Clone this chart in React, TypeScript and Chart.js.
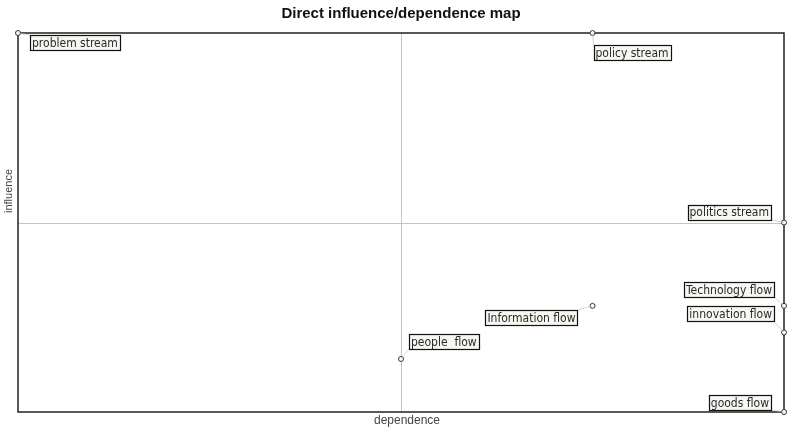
import React, { useEffect, useRef } from "react";
import { Chart, registerables } from "chart.js";

Chart.register(...registerables);

const names = [
  "problem stream",
  "policy stream",
  "politics stream",
  "Technology flow",
  "innovation flow",
  "Information flow",
  "people  flow",
  "goods flow",
];
const dependence = [0, 75, 100, 100, 100, 75, 50, 100];
const influence = [100, 100, 50, 28, 21, 28, 14, 0];

// label box placement relative to point (style/layout, not data)
const labelPlacement: { side: "left" | "right"; dx: number; dy: number }[] = [
  { side: "right", dx: 12, dy: 2 },
  { side: "right", dx: 1, dy: 12 },
  { side: "left", dx: -13, dy: -18 },
  { side: "left", dx: -10, dy: -24 },
  { side: "left", dx: -10, dy: -26 },
  { side: "left", dx: -15, dy: 4 },
  { side: "right", dx: 8, dy: -25 },
  { side: "left", dx: -13, dy: -17 },
];

export default function App() {
  const ref = useRef<HTMLCanvasElement | null>(null);
  useEffect(() => {
    if (!ref.current) return;
    const decor = {
      id: "decor",
      beforeDatasetsDraw(chart: any) {
        const { ctx, chartArea, scales } = chart;
        const x = scales.x, y = scales.y;
        ctx.save();
        ctx.strokeStyle = "#c4c4c4";
        ctx.lineWidth = 1;
        const mx = Math.round(x.getPixelForValue(50)) + 0.5;
        const my = Math.round(y.getPixelForValue(50)) + 0.5;
        ctx.beginPath();
        ctx.moveTo(mx, chartArea.top);
        ctx.lineTo(mx, chartArea.bottom);
        ctx.moveTo(chartArea.left, my);
        ctx.lineTo(chartArea.right, my);
        ctx.stroke();
        // frame
        ctx.strokeStyle = "#222";
        ctx.lineWidth = 1.5;
        ctx.strokeRect(chartArea.left, chartArea.top, chartArea.right - chartArea.left, chartArea.bottom - chartArea.top);
        ctx.restore();
      },
      afterDraw(chart: any) {
        const { ctx, scales } = chart;
        const x = scales.x, y = scales.y;
        ctx.save();
        // title
        ctx.fillStyle = "#111";
        ctx.font = "bold 15px 'Liberation Sans', Arial, sans-serif";
        ctx.textAlign = "center";
        ctx.textBaseline = "middle";
        ctx.fillText("Direct influence/dependence map", 401, 14);
        // axis titles
        ctx.fillStyle = "#444";
        ctx.font = "12px 'Liberation Sans', Arial, sans-serif";
        ctx.fillText("dependence", 407, 421);
        ctx.save();
        ctx.translate(9, 191);
        ctx.rotate(-Math.PI / 2);
        ctx.font = "11px 'Liberation Sans', Arial, sans-serif";
        ctx.fillText("influence", 0, 0);
        ctx.restore();
        // labels
        ctx.font = "12px 'DejaVu Sans Condensed', 'Liberation Sans', sans-serif";
        ctx.textAlign = "left";
        names.forEach((n, i) => {
          const px = x.getPixelForValue(dependence[i]);
          const py = y.getPixelForValue(influence[i]);
          const p = labelPlacement[i];
          const w = ctx.measureText(n).width + 4;
          const h = 15;
          const left = p.side === "right" ? px + p.dx : px + p.dx - w;
          const top = py + p.dy;
          const cx = p.side === "right" ? left : left + w;
          const cy = p.dy < 0 ? top + h : top;
          ctx.strokeStyle = "#bbb";
          ctx.lineWidth = 0.6;
          ctx.beginPath();
          ctx.moveTo(px, py);
          ctx.lineTo(cx, cy);
          ctx.stroke();
          ctx.fillStyle = "#f7f7f2";
          ctx.fillRect(left, top, w, h);
          ctx.strokeStyle = "#111";
          ctx.lineWidth = 1.2;
          ctx.strokeRect(Math.round(left) + 0.5, Math.round(top) + 0.5, Math.round(w), h);
          ctx.fillStyle = "#2a2a2a";
          ctx.textBaseline = "middle";
          ctx.fillText(n, left + 2, top + h / 2 + 1);
        });
        ctx.restore();
      },
    };
    const chart = new Chart(ref.current, {
      type: "scatter",
      data: {
        datasets: [
          {
            data: dependence.map((d, i) => ({ x: d, y: influence[i] })),
            pointRadius: 2.5,
            pointBorderColor: "#333",
            pointBackgroundColor: "#fff",
            pointBorderWidth: 1,
            clip: false as any,
          },
        ],
      },
      options: {
        animation: false,
        responsive: false,
        layout: { padding: { left: 18, right: 6, top: 33, bottom: 19 } },
        plugins: {
          legend: { display: false },
          tooltip: { enabled: false },
          title: { display: false },
        },
        scales: {
          x: {
            type: "linear",
            min: 0,
            max: 100,
            ticks: { display: false },
            grid: { display: false, drawTicks: false },
            border: { display: false },
          },
          y: {
            type: "linear",
            min: 0,
            max: 100,
            ticks: { display: false },
            grid: { display: false, drawTicks: false },
            border: { display: false },
          },
        },
      },
      plugins: [decor],
    });
    return () => chart.destroy();
  }, []);
  return (
    <div style={{ position: "fixed", left: 0, top: 0, width: 790, height: 431, background: "#fff" }}>
      <canvas ref={ref} width={790} height={431} style={{ width: 790, height: 431 }} />
    </div>
  );
}
